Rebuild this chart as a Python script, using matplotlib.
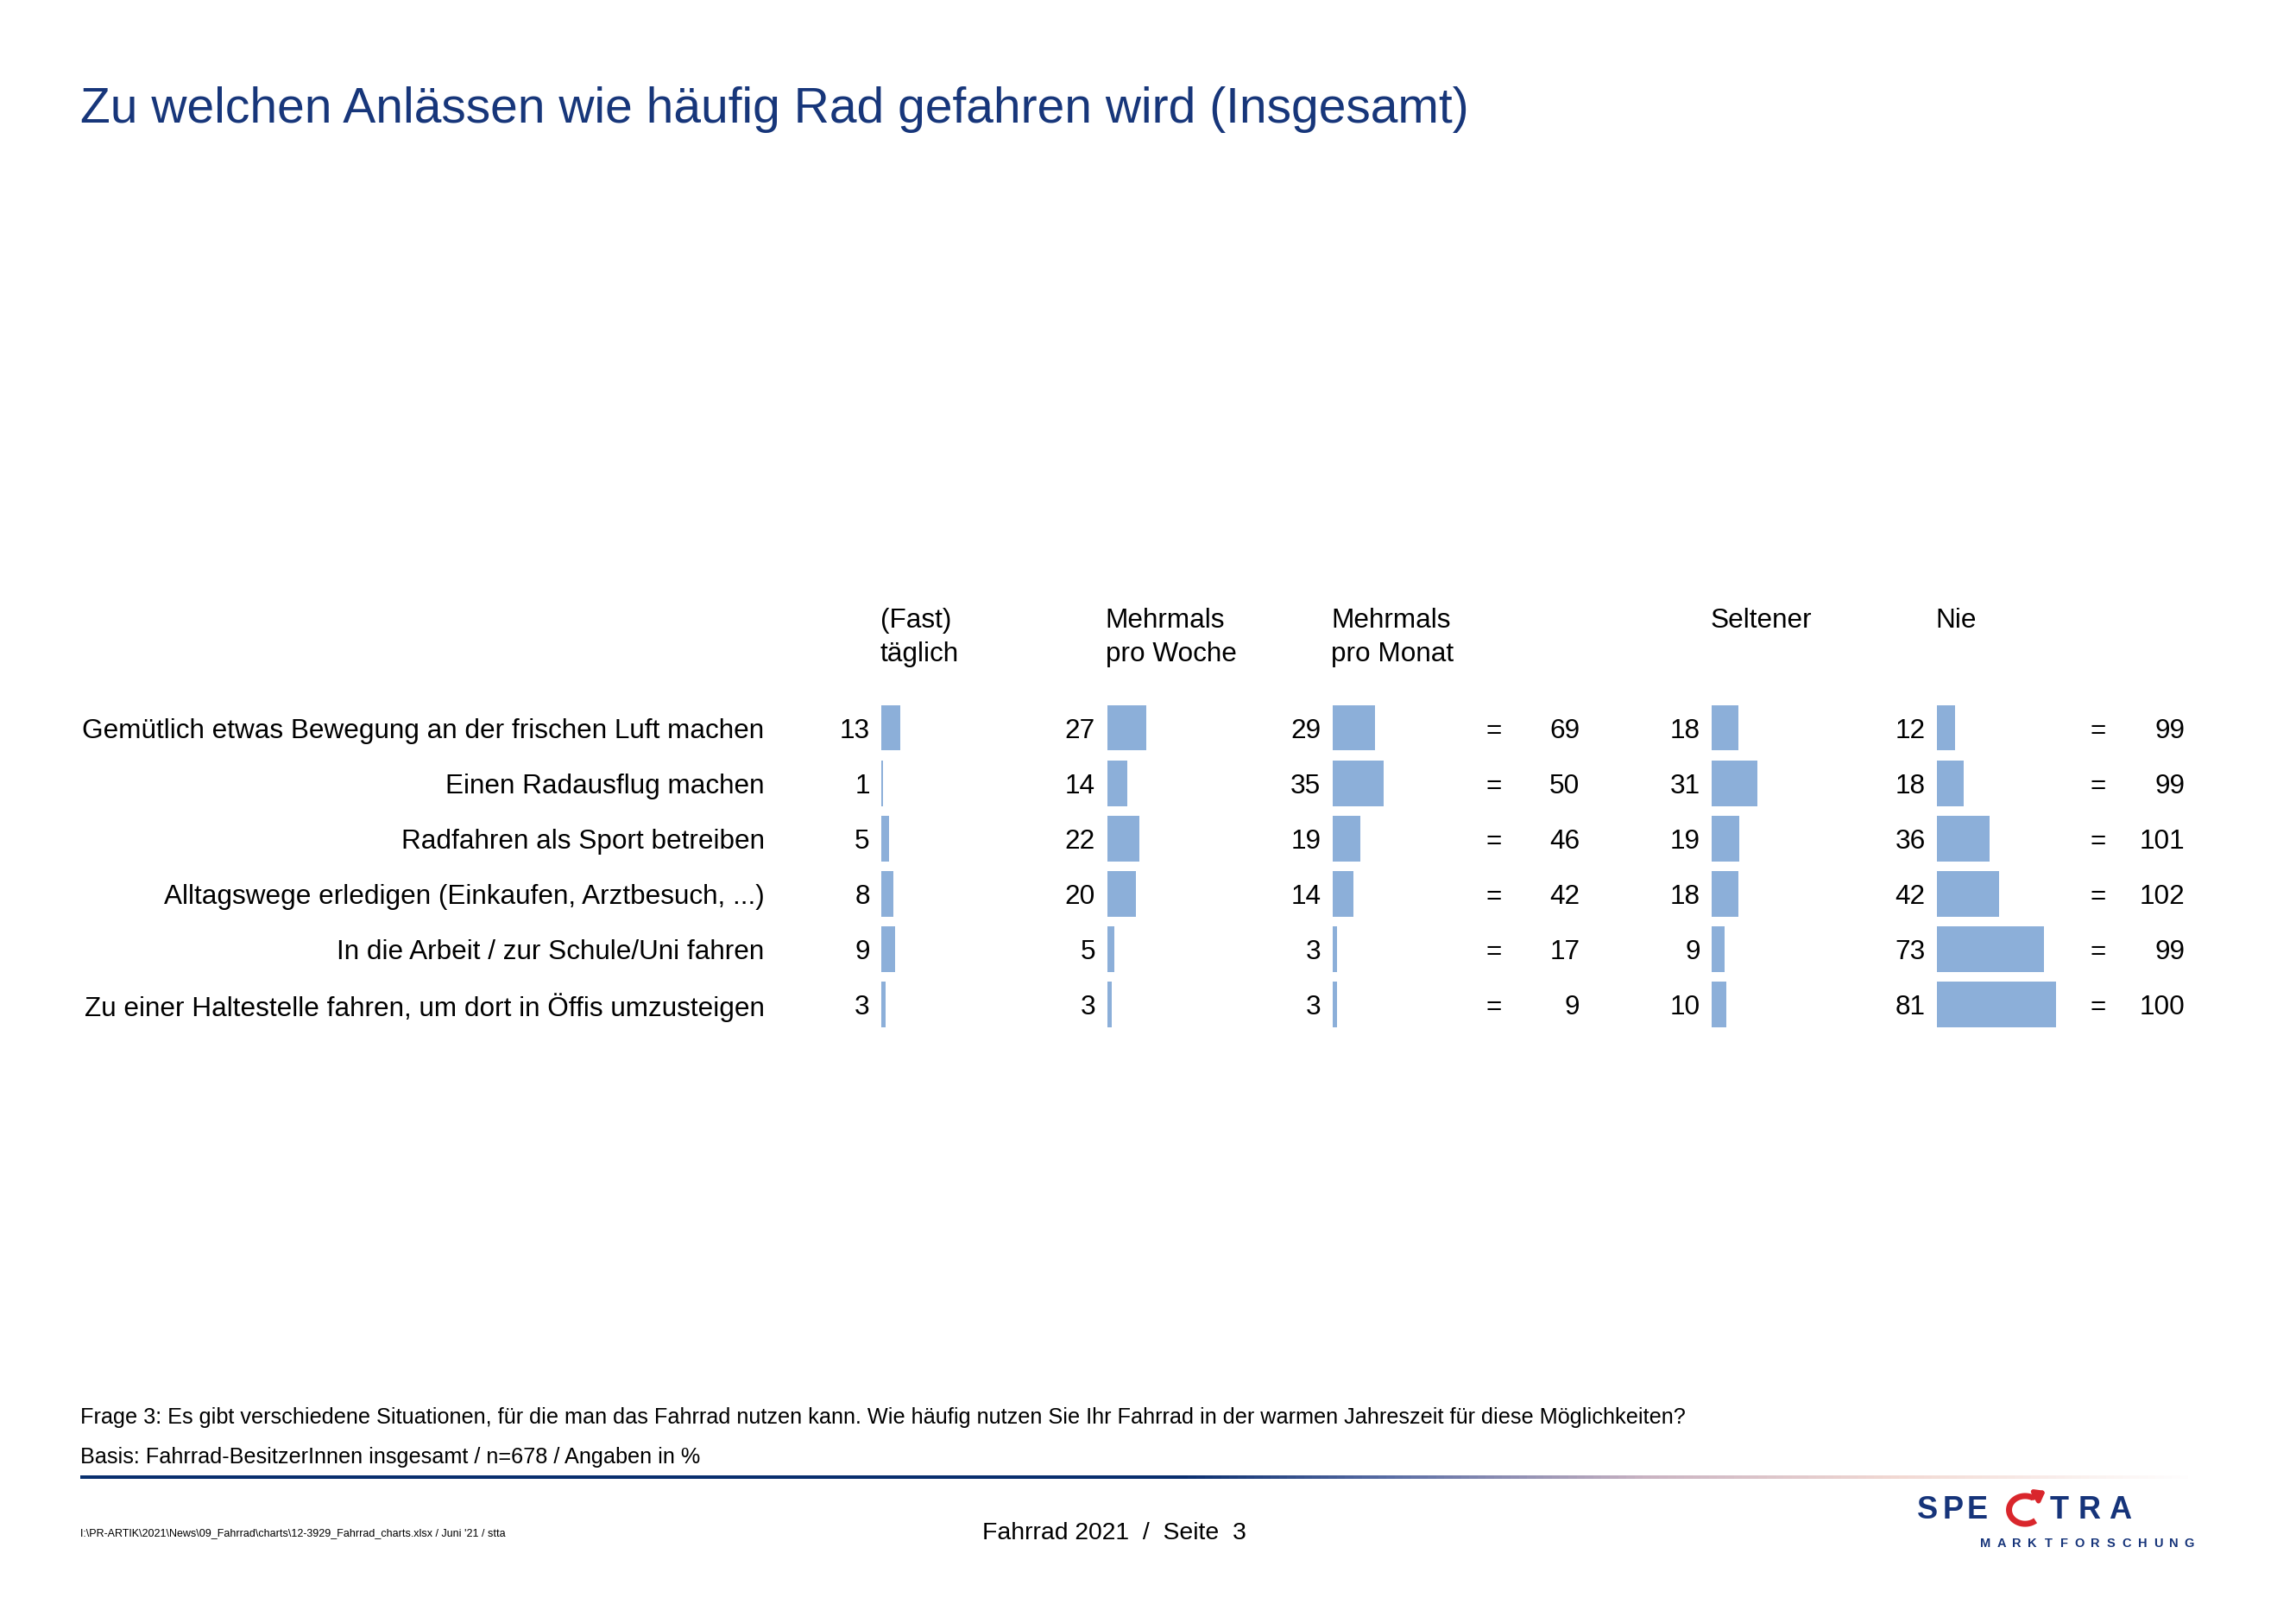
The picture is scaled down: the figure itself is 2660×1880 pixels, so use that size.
import matplotlib.pyplot as plt
from matplotlib.colors import LinearSegmentedColormap
import numpy as np

plt.rcParams['font.family'] = ['Liberation Sans', 'DejaVu Sans']

# data
items = ["Gemütlich etwas Bewegung an der frischen Luft machen",
         "Einen Radausflug machen",
         "Radfahren als Sport betreiben",
         "Alltagswege erledigen (Einkaufen, Arztbesuch, ...)",
         "In die Arbeit / zur Schule/Uni fahren",
         "Zu einer Haltestelle fahren, um dort in Öffis umzusteigen"]
taeglich = [13, 1, 5, 8, 9, 3]
woche = [27, 14, 22, 20, 5, 3]
monat = [29, 35, 19, 14, 3, 3]
sum1 = [69, 50, 46, 42, 17, 9]
seltener = [18, 31, 19, 18, 9, 10]
nie = [12, 18, 36, 42, 73, 81]
sum2 = [99, 99, 101, 102, 99, 100]
headers = ["(Fast)\ntäglich", "Mehrmals\npro Woche", "Mehrmals\npro Monat",
           "Seltener", "Nie"]

# layout (page units, 1 unit = 1 bar percent)
W = 1568
H = W * 1880 / 2660
col_x = [602, 756, 910, 1169, 1323]
row_y0 = 497
row_dy = 37.8
bar_h = 31
bar_col = '#8cafd9'
navy = '#17367a'
fs = 22.7
dy = 2  # text centre offset

fig = plt.figure(figsize=(26.6, 18.8), dpi=100)
ax = fig.add_axes([0, 0, 1, 1])
ax.set_xlim(0, W)
ax.set_ylim(H, 0)
ax.axis('off')

ax.text(55, 73 + dy, "Zu welchen Anlässen wie häufig Rad gefahren wird (Insgesamt)",
        fontsize=41, color=navy, va='center', ha='left')

ys = [row_y0 + i * row_dy for i in range(len(items))]
cols = [taeglich, woche, monat, seltener, nie]

for x0, h in zip(col_x, headers):
    for j, line in enumerate(h.split("\n")):
        ax.text(x0 - 1, 422 + dy + j * 23, line, fontsize=fs, ha='left', va='center')

for i, y in enumerate(ys):
    ax.text(522, y + dy, items[i], fontsize=fs, ha='right', va='center')

for x0, vals in zip(col_x, cols):
    ax.barh(ys, vals, left=x0, height=bar_h, color=bar_col, edgecolor='none')
    for y, v in zip(ys, vals):
        ax.text(x0 - 8, y + dy, str(v), fontsize=fs, ha='right', va='center')

for eq_x, sum_x, sums in [(1020, 1079, sum1), (1433, 1492, sum2)]:
    for y, v in zip(ys, sums):
        ax.text(eq_x, y + dy, "=", fontsize=fs, ha='center', va='center')
        ax.text(sum_x, y + dy, str(v), fontsize=fs, ha='right', va='center')

# footer
ax.text(55, 966 + dy, "Frage 3: Es gibt verschiedene Situationen, für die man das Fahrrad nutzen kann. "
        "Wie häufig nutzen Sie Ihr Fahrrad in der warmen Jahreszeit für diese Möglichkeiten?",
        fontsize=18.2, ha='left', va='center')
ax.text(55, 993 + dy, "Basis: Fahrrad-BesitzerInnen insgesamt / n=678 / Angaben in %",
        fontsize=18.2, ha='left', va='center')

grad = LinearSegmentedColormap.from_list(
    'g', [(0, '#08306e'), (0.52, '#0a2f6e'), (0.62, '#5a6ea5'),
          (0.74, '#c9b3c2'), (0.86, '#f2d9d3'), (1, '#ffffff')])
ax.imshow(np.linspace(0, 1, 256).reshape(1, -1), cmap=grad, aspect='auto',
          extent=[55, 1500, 1009.8, 1007.8], zorder=1)
ax.set_xlim(0, W)
ax.set_ylim(H, 0)

ax.text(55, 1045 + dy, r"I:\PR-ARTIK\2021\News\09_Fahrrad\charts\12-3929_Fahrrad_charts.xlsx / Juni '21 / stta",
        fontsize=9, ha='left', va='center')
ax.text(761, 1047, "Fahrrad 2021  /  Seite  3", fontsize=20.4, ha='center', va='center')

# logo
logo_col = '#16347a'
for ch, x in zip("SPETRA", [1316, 1334, 1350, 1406, 1427, 1448]):
    ax.text(x, 1031, ch, fontsize=26, fontweight='bold', ha='center', va='center',
            color=logo_col)
t = np.radians(np.linspace(-50, -300, 40))
sx = 1383 + 11 * np.cos(t)
sy = 1031 - 9.5 * np.sin(t)
ax.plot(sx, sy, color='#d9262c', lw=5, solid_capstyle='butt')
ax.annotate("", xy=(1397, 1018), xytext=(sx[-1], sy[-1]),
            arrowprops=dict(arrowstyle='-|>,head_width=0.45,head_length=0.6', lw=4,
                            color='#d9262c', shrinkA=0, shrinkB=0))
for k, ch in enumerate("MARKTFORSCHUNG"):
    ax.text(1356 + k * 10.7, 1054, ch, fontsize=10.5, fontweight='bold', ha='center',
            va='center', color=logo_col)

fig.savefig('out.png', dpi=100)
